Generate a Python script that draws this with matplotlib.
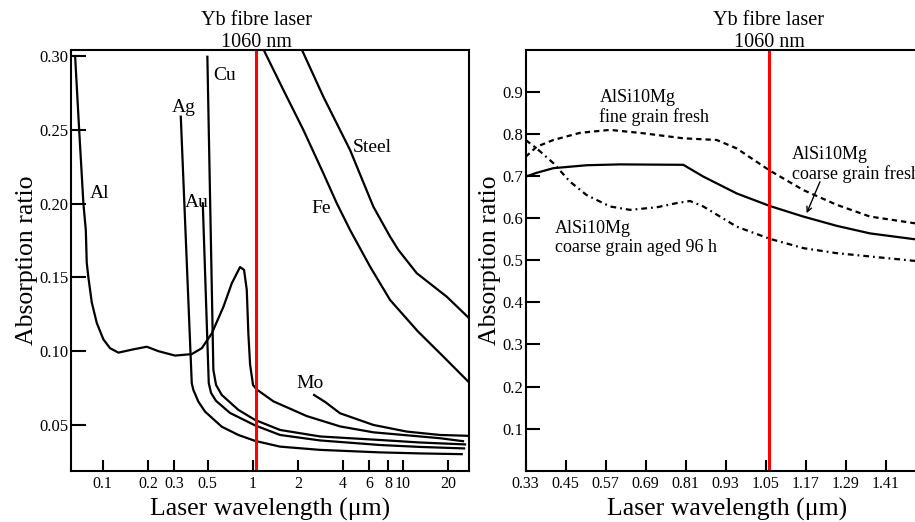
import matplotlib
matplotlib.use('Agg')
import matplotlib.pyplot as plt
import matplotlib.transforms as mtransforms

plt.rcParams['font.family'] = ['Liberation Serif', 'DejaVu Serif']

# Left panel: absorption ratio of pure metals vs laser wavelength (um)
al_x = [0.0655, 0.0697, 0.0744, 0.0772, 0.0783, 0.0803, 0.0846, 0.0914, 0.1011,
        0.112, 0.1273, 0.1563, 0.1968, 0.235, 0.304, 0.3926, 0.458, 0.5337,
        0.638, 0.726, 0.824, 0.8765, 0.9134, 0.936, 0.961, 1.006, 1.065, 1.374,
        2.295, 3.825, 6.377, 10.65, 17.76, 25.27]
al_y = [0.300, 0.250, 0.200, 0.182, 0.160, 0.150, 0.133, 0.119, 0.108, 0.102,
        0.099, 0.101, 0.103, 0.100, 0.097, 0.098, 0.102, 0.112, 0.130, 0.146,
        0.157, 0.155, 0.1415, 0.112, 0.091, 0.077, 0.074, 0.066, 0.056, 0.049,
        0.045, 0.043, 0.041, 0.039]

ag_x = [0.3317, 0.3926, 0.4024, 0.4345, 0.4816, 0.6223, 0.8029, 1.0375, 1.523,
        2.813, 7.069, 13.06, 24.78]
ag_y = [0.2589, 0.0782, 0.0737, 0.0658, 0.0590, 0.0488, 0.0432, 0.0392, 0.0353,
        0.0331, 0.0314, 0.0307, 0.0302]

au_x = [0.4649, 0.5097, 0.528, 0.570, 0.7068, 1.0375, 1.523, 2.813, 7.069,
        13.06, 25.67]
au_y = [0.2002, 0.0783, 0.0717, 0.0663, 0.0581, 0.0497, 0.0432, 0.0395, 0.0364,
        0.0351, 0.0341]

cu_x = [0.4989, 0.547, 0.570, 0.6223, 0.8029, 1.0375, 1.523, 2.813, 7.069,
        13.06, 26.06]
cu_y = [0.2995, 0.0873, 0.0771, 0.0703, 0.0602, 0.0534, 0.0466, 0.0422, 0.0398,
        0.0381, 0.0368]

mo_x = [2.567, 3.039, 3.825, 6.377, 10.65, 17.76, 28.1]
mo_y = [0.0703, 0.0656, 0.0579, 0.0500, 0.0455, 0.0432, 0.0426]

fe_x = [1.16, 1.602, 2.178, 2.960, 3.637, 4.460, 6.063, 8.241, 12.6, 18.68, 27.42]
fe_y = [0.306, 0.2770, 0.2499, 0.2205, 0.2002, 0.1821, 0.1573, 0.1347, 0.1135,
        0.0963, 0.0793]

steel_x = [2.09, 2.960, 4.460, 6.377, 8.241, 9.362, 12.42, 19.68, 27.42]
steel_y = [0.306, 0.2724, 0.2363, 0.1979, 0.1776, 0.1686, 0.1528, 0.1369, 0.1228]

left_xticks = [0.1, 0.2, 0.3, 0.5, 1, 2, 4, 6, 8, 10, 20]
left_xlabels = ['0.1', '0.2', '0.3', '0.5', '1', '2', '4', '6', '8', '10', '20']
left_yticks = [0.05, 0.10, 0.15, 0.20, 0.25, 0.30]

# Right panel: AlSi10Mg powders
fine_x = [0.33, 0.363, 0.413, 0.493, 0.583, 0.683, 0.803, 0.903, 0.963, 1.063,
          1.163, 1.263, 1.363, 1.498, 1.54]
fine_y = [0.746, 0.770, 0.786, 0.803, 0.810, 0.802, 0.790, 0.786, 0.766, 0.713,
          0.667, 0.632, 0.604, 0.588, 0.583]

coarse_x = [0.33, 0.363, 0.413, 0.513, 0.613, 0.803, 0.863, 0.963, 1.063, 1.163,
            1.263, 1.363, 1.498, 1.54]
coarse_y = [0.699, 0.708, 0.719, 0.726, 0.728, 0.727, 0.699, 0.659, 0.629, 0.604,
            0.582, 0.564, 0.550, 0.546]

aged_x = [0.33, 0.363, 0.413, 0.463, 0.513, 0.583, 0.643, 0.723, 0.783, 0.823,
          0.863, 0.963, 1.063, 1.163, 1.263, 1.493, 1.54]
aged_y = [0.786, 0.766, 0.731, 0.687, 0.655, 0.628, 0.620, 0.626, 0.636, 0.641,
          0.628, 0.580, 0.551, 0.529, 0.517, 0.499, 0.496]

right_xticks = [0.33, 0.45, 0.57, 0.69, 0.81, 0.93, 1.05, 1.17, 1.29, 1.41]
right_yticks = [0.1, 0.2, 0.3, 0.4, 0.5, 0.6, 0.7, 0.8, 0.9]

laser_um = 1.06
laser_text = 'Yb fibre laser\n1060 nm'


def style_axes(ax, ylen):
  for s in ax.spines.values():
    s.set_linewidth(1.5)
  ax.tick_params(axis='y', which='major', direction='in', length=ylen, width=1.5,
                 labelsize=12, pad=2, right=False)
  ax.tick_params(axis='x', which='major', direction='in', length=8, width=1.5,
                 labelsize=11.5, pad=4, top=False)
  ax.tick_params(which='minor', length=0)


fig = plt.figure(figsize=(9.15, 5.22), dpi=100)

# ---------------- left panel ----------------
ax1 = fig.add_axes([0.0776, 0.0983, 0.435, 0.806])
lw = 1.6
for xs, ys in [(al_x, al_y), (ag_x, ag_y), (au_x, au_y), (cu_x, cu_y),
               (mo_x, mo_y), (fe_x, fe_y), (steel_x, steel_y)]:
  ax1.plot(xs, ys, color='black', lw=lw)
ax1.axvline(laser_um, color='red', lw=2.2)
ax1.set_xscale('log')
ax1.set_xlim(0.0615, 27.7)
ax1.set_ylim(0.019, 0.3041)
ax1.set_xticks(left_xticks)
ax1.set_xticklabels(left_xlabels)
ax1.xaxis.set_minor_locator(matplotlib.ticker.NullLocator())
ax1.set_yticks(left_yticks)
ax1.set_yticklabels(['%.2f' % v for v in left_yticks])
style_axes(ax1, 10.5)

for txt, x, y in [('Al', 0.0824, 0.2038), ('Ag', 0.2888, 0.2623),
                  ('Au', 0.354, 0.1979), ('Cu', 0.547, 0.2837),
                  ('Steel', 4.649, 0.2352), ('Fe', 2.477, 0.1934),
                  ('Mo', 1.968, 0.0749)]:
  ax1.text(x, y, txt, fontsize=14, ha='left', va='baseline')

ax1.set_xlabel('Laser wavelength (μm)', fontsize=18.5)
ax1.set_ylabel('Absorption ratio', fontsize=18.5)
ax1.yaxis.set_label_coords(-0.082, 0.5)
ax1.xaxis.set_label_coords(0.5, -0.064)
trans1 = mtransforms.blended_transform_factory(ax1.transData, ax1.transAxes)
ax1.text(laser_um, 0.996, laser_text, transform=trans1, ha='center',
         va='bottom', fontsize=14.5, linespacing=1.22)

# ---------------- right panel ----------------
ax2 = fig.add_axes([0.5745, 0.0983, 0.4397, 0.806])
ax2.plot(fine_x, fine_y, color='black', lw=1.6, linestyle=(0, (2.4, 1.8)))
ax2.plot(coarse_x, coarse_y, color='black', lw=1.6)
ax2.plot(aged_x, aged_y, color='black', lw=1.6, linestyle=(0, (2.6, 1.8, 0.8, 1.8)))
ax2.axvline(laser_um, color='red', lw=2.2)
ax2.set_xlim(0.33, 1.537)
ax2.set_ylim(0, 1.0)
ax2.set_xticks(right_xticks)
ax2.set_xticklabels(['%.2f' % v for v in right_xticks])
ax2.set_yticks(right_yticks)
ax2.set_yticklabels(['%.1f' % v for v in right_yticks])
style_axes(ax2, 10)

# va='baseline' on multi-line text anchors the last line
ax2.text(0.551, 0.829, 'AlSi10Mg\nfine grain fresh', fontsize=13,
         ha='left', va='baseline', linespacing=1.12)
ax2.text(1.128, 0.694, 'AlSi10Mg\ncoarse grain fresh', fontsize=13,
         ha='left', va='baseline', linespacing=1.12)
ax2.text(0.418, 0.520, 'AlSi10Mg\ncoarse grain aged 96 h', fontsize=13,
         ha='left', va='baseline', linespacing=1.12)
ax2.annotate('', xy=(1.173, 0.612), xytext=(1.213, 0.687),
             arrowprops=dict(arrowstyle='->', color='black', lw=1.0,
                             mutation_scale=9, shrinkA=0, shrinkB=0))

ax2.set_xlabel('Laser wavelength (μm)', fontsize=18.5)
ax2.set_ylabel('Absorption ratio', fontsize=18.5)
ax2.yaxis.set_label_coords(-0.062, 0.5)
ax2.xaxis.set_label_coords(0.5, -0.064)
trans2 = mtransforms.blended_transform_factory(ax2.transData, ax2.transAxes)
ax2.text(laser_um, 0.996, laser_text, transform=trans2, ha='center',
         va='bottom', fontsize=14.5, linespacing=1.22)

fig.savefig('out.png', dpi=100)
